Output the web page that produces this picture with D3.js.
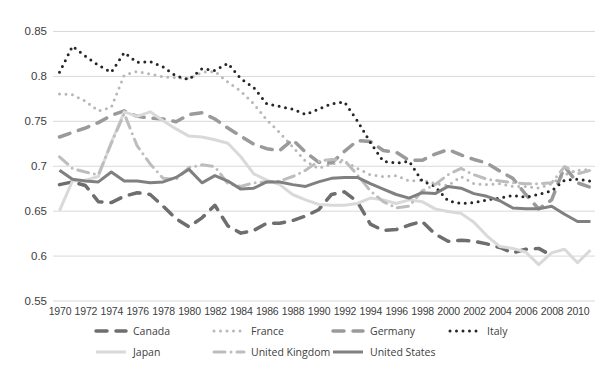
<!DOCTYPE html>
<html>
<head>
<meta charset="utf-8">
<script src="https://cdn.jsdelivr.net/npm/d3@7"></script>
<style>
  body { margin: 0; background: #fff; }
  svg { font-family: "Open Sans", sans-serif; }
</style>
</head>
<body>
<div id="chart"></div>
<script>
// years on the category axis
const years = [1970, 1971, 1972, 1973, 1974, 1975, 1976, 1977, 1978, 1979,
  1980, 1981, 1982, 1983, 1984, 1985, 1986, 1987, 1988, 1989,
  1990, 1991, 1992, 1993, 1994, 1995, 1996, 1997, 1998, 1999,
  2000, 2001, 2002, 2003, 2004, 2005, 2006, 2007, 2008, 2009,
  2010, 2011];
const yearTicks = [1970, 1972, 1974, 1976, 1978, 1980, 1982, 1984, 1986, 1988,
  1990, 1992, 1994, 1996, 1998, 2000, 2002, 2004, 2006, 2008, 2010];
const valueTicks = [0.55, 0.6, 0.65, 0.7, 0.75, 0.8, 0.85];

// series values
const canada = [.679, .682, .678, .660, .659, .666, .670, .668, .655, .641,
  .632, .642, .656, .633, .625, .628, .636, .636, .639, .644,
  .651, .668, .671, .660, .635, .628, .629, .634, .638, .624,
  .616, .617, .616, .613, .609, .603, .607, .608, .600, null,
  null, null];
const france = [.780, .779, .772, .761, .765, .801, .805, .802, .799, .798,
  .797, .804, .805, .793, .783, .769, .751, .737, .721, .705,
  .697, .702, .705, .697, .690, .688, .689, .683, .684, .680,
  .678, .688, .680, .679, .680, .677, .677, .675, .680, .690,
  .695, .696];
const germany = [.732, .737, .742, .748, .756, .761, .755, .753, .752, .749,
  .757, .759, .752, .742, .733, .724, .719, .717, .729, .715,
  .704, .703, .716, .728, .727, .717, .715, .706, .706, .713,
  .718, .712, .707, .703, .694, .686, .668, .652, .662, .699,
  .681, .676];
const italy = [.804, .833, .822, .812, .804, .826, .815, .816, .810, .800,
  .796, .808, .806, .814, .797, .787, .769, .766, .763, .757,
  .763, .769, .771, .750, .726, .705, .703, .705, .683, .677,
  .661, .658, .659, .662, .664, .667, .665, .668, .672, .684,
  .685, .683];
const japan = [.650, .683, .684, .688, .726, .760, .755, .760, .750, .741,
  .733, .732, .729, .725, .710, .691, .684, .679, .668, .662,
  .657, .656, .656, .658, .664, .662, .658, .662, .660, .652,
  .649, .647, .637, .622, .610, .608, .604, .590, .603, .607,
  .592, .606];
const uk = [.710, .697, .693, .690, .725, .758, .722, .702, .686, .685,
  .698, .701, .699, .680, .677, .681, .682, .683, .688, .695,
  .705, .707, .706, .690, .672, .660, .653, .655, .672, .679,
  .690, .697, .690, .685, .683, .681, .680, .680, .681, .699,
  .691, .695];
const us = [.695, .685, .683, .682, .693, .683, .683, .681, .682, .687,
  .696, .681, .689, .683, .674, .675, .682, .682, .679, .677,
  .682, .686, .687, .687, .680, .674, .668, .664, .670, .669,
  .677, .675, .669, .666, .661, .653, .652, .652, .655, .646,
  .638, .638];

const seriesNames = ["Canada", "France", "Germany", "Italy", "Japan", "United Kingdom", "United States"];
const seriesValues = [canada, france, germany, italy, japan, uk, us];

// line look per series
const styles = [
  { color: "#6e6e6e", width: 3.5, dash: "11,9", cap: "round" },
  { color: "#b8b8b8", width: 3, dash: "0,6.5", cap: "round" },
  { color: "#9a9a9a", width: 3.5, dash: "11,9", cap: "round" },
  { color: "#262626", width: 3, dash: "0,6.5", cap: "round" },
  { color: "#d9d9d9", width: 3, dash: null, cap: "butt" },
  { color: "#bdbdbd", width: 3, dash: "11,6,0,6", cap: "round" },
  { color: "#808080", width: 3, dash: null, cap: "butt" }
];

const W = 600, H = 376;
const svg = d3.select("#chart").append("svg")
  .attr("width", W).attr("height", H);

const x = d3.scaleLinear().domain([1970, 2011]).range([59.5, 590.5]);
const y = d3.scaleLinear().domain([0.55, 0.85]).range([300.5, 31]);

// gridlines + y labels
const yAxis = svg.append("g")
  .attr("transform", "translate(53,0)")
  .call(d3.axisLeft(y).tickValues(valueTicks).tickSize(-542)
    .tickFormat(d => String(+d.toFixed(2))));
yAxis.select(".domain").remove();
yAxis.selectAll(".tick line").attr("stroke", "#d9d9d9").attr("stroke-width", 1);
yAxis.selectAll(".tick text")
  .attr("x", -6).attr("fill", "#404040")
  .style("font-size", "11.5px");

// x labels
const xAxis = svg.append("g")
  .attr("transform", "translate(0,305)")
  .call(d3.axisBottom(x).tickValues(yearTicks).tickSize(0).tickFormat(d3.format("d")));
xAxis.select(".domain").remove();
xAxis.selectAll(".tick text")
  .attr("fill", "#404040")
  .style("font-size", "10.5px")
  .style("letter-spacing", "-0.2px");

// lines
const line = d3.line()
  .defined(d => d[1] != null)
  .x(d => x(d[0]))
  .y(d => y(d[1]));

seriesValues.forEach((vals, i) => {
  const st = styles[i];
  svg.append("path")
    .datum(years.map((yr, j) => [yr, vals[j]]))
    .attr("fill", "none")
    .attr("stroke", st.color)
    .attr("stroke-width", st.width)
    .attr("stroke-linecap", st.cap)
    .attr("stroke-linejoin", "round")
    .attr("stroke-dasharray", st.dash)
    .attr("d", line);
});

// legend: 4 columns, 2 rows
const legendCols = [95, 213, 332, 449];
const legendRows = [331, 352];
const legend = svg.append("g").attr("class", "legend");
seriesNames.forEach((name, i) => {
  const st = styles[i];
  const lx = legendCols[i % 4];
  const ly = legendRows[Math.floor(i / 4)];
  legend.append("line")
    .attr("x1", lx + 1).attr("x2", lx + 31)
    .attr("y1", ly).attr("y2", ly)
    .attr("stroke", st.color)
    .attr("stroke-width", st.width)
    .attr("stroke-linecap", st.cap)
    .attr("stroke-dasharray", st.dash);
  legend.append("text")
    .attr("x", lx + 38).attr("y", ly)
    .attr("dy", "0.35em")
    .attr("fill", "#404040")
    .style("font-size", "10.5px")
    .text(name);
});
</script>
</body>
</html>
